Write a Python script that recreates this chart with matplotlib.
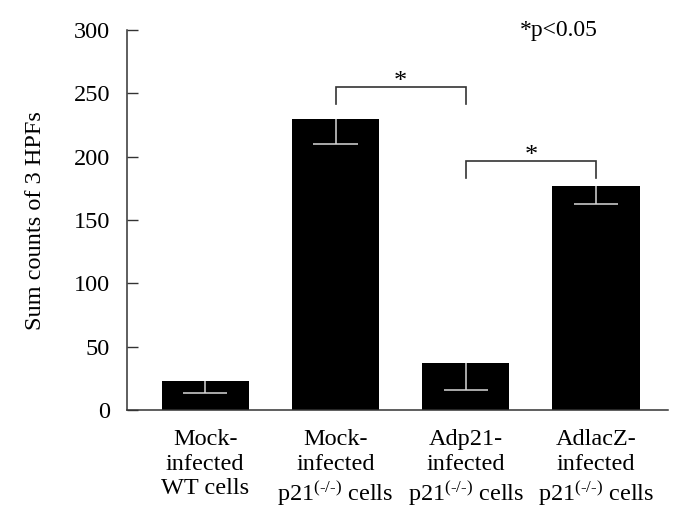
import matplotlib.pyplot as plt
import numpy as np

# data
groups = ["Mock-\ninfected\nWT cells",
          "Mock-\ninfected\np21$^{\\text{(-/-)}}$ cells",
          "Adp21-\ninfected\np21$^{\\text{(-/-)}}$ cells",
          "AdlacZ-\ninfected\np21$^{\\text{(-/-)}}$ cells"]
counts = [23.2, 230.0, 37.0, 176.8]
err_low = [9.5, 20.0, 21.5, 14.5]

# significance brackets: (left bar, right bar, bracket top, leg bottom)
sig_pairs = [(1, 2, 255, 241.5), (2, 3, 197, 183.5)]

plt.rcParams['font.family'] = ['Liberation Serif', 'DejaVu Serif']
plt.rcParams['mathtext.fontset'] = 'custom'
plt.rcParams['mathtext.rm'] = 'Liberation Serif'
plt.rcParams['mathtext.it'] = 'Liberation Serif'

fig = plt.figure(figsize=(6.85, 5.29), dpi=100)
ax = fig.add_axes([0.185, 0.225, 0.79, 0.718])

x = np.arange(len(counts))
ax.bar(x, counts, width=0.67, color='black', zorder=2)

# error bars go downward only, drawn light inside the black bars
lo = np.array(counts) - np.array(err_low)
ax.vlines(x, lo, counts, color='#d8d8d8', lw=1.1, zorder=3)
ax.hlines(lo, x - 0.17, x + 0.17, color='#d8d8d8', lw=1.1, zorder=3)

for a, b, top, leg in sig_pairs:
    ax.plot([a, a, b, b], [leg, top, top, leg], color='#333333', lw=1.2,
            solid_joinstyle='miter', zorder=3)
    ax.text((a + b) / 2, top - 5, '*', ha='center', va='bottom', fontsize=19)

ax.text(2.415, 300, '*p<0.05', ha='left', va='center', fontsize=17)

ax.set_xlim(-0.603, 3.551)
ax.set_ylim(0, 300)
ax.set_yticks([0, 50, 100, 150, 200, 250, 300])
ax.set_xticks(x)
ax.set_xticklabels(groups, fontsize=17.5, linespacing=1.2)
ax.tick_params(axis='x', length=0, pad=14)
ax.tick_params(axis='y', direction='in', length=8, width=1, pad=12,
               labelsize=17.5, color='#333333')
ax.set_ylabel('Sum counts of 3 HPFs', fontsize=17.5, labelpad=20)

for side in ['top', 'right']:
    ax.spines[side].set_visible(False)
for side in ['left', 'bottom']:
    ax.spines[side].set_color('#333333')
    ax.spines[side].set_linewidth(1.1)

fig.savefig('out.png', dpi=100)
